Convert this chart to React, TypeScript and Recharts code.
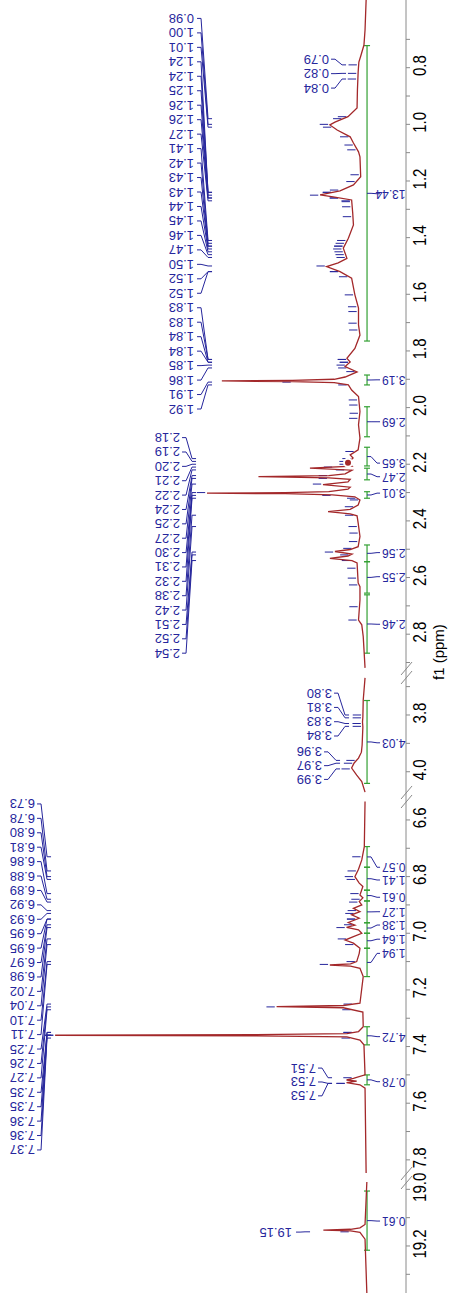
import { ComposedChart, Line, Scatter, XAxis, YAxis, ReferenceLine } from "recharts";

const FONT = '"Liberation Sans", Arial, sans-serif';
const RED = "#a3282a";
const BLUE = "#26269c";
const GREEN = "#33a033";
const AXIS = "#8a8a8a";
const PX_PER_PPM = 283.3;
const Y_DOMAIN: [number, number] = [-11.3, 100.7];

// spectrum pieces (ppm / intensity)
const ALKYL_PPM = [0.561, 0.667, 0.72, 0.755, 0.78, 0.815, 0.879, 0.942, 0.973, 0.992, 1.002, 1.02, 1.044, 1.066, 1.097, 1.115, 1.185, 1.214, 1.235, 1.249, 1.256, 1.267, 1.313, 1.355, 1.402, 1.437, 1.473, 1.489, 1.502, 1.52, 1.543, 1.602, 1.649, 1.708, 1.744, 1.791, 1.826, 1.839, 1.855, 1.874, 1.892, 1.9, 1.904, 1.906, 1.908, 1.912, 1.92, 1.938, 1.961, 2.014, 2.061, 2.108, 2.149, 2.167, 2.178, 2.195, 2.207, 2.214, 2.221, 2.234, 2.24, 2.244, 2.248, 2.253, 2.262, 2.272, 2.281, 2.288, 2.297, 2.3, 2.302, 2.304, 2.308, 2.315, 2.326, 2.344, 2.359, 2.367, 2.375, 2.382, 2.407, 2.455, 2.491, 2.501, 2.508, 2.517, 2.524, 2.532, 2.54, 2.548, 2.619, 2.632, 2.679, 2.75, 2.767, 2.808, 2.919];
const ALKYL_INT = [-0.3, 0, 0.3, 1.1, 1.7, 1.9, 2.1, 2.2, 4.7, 8.3, 9.7, 7.7, 4.1, 3.2, 1.8, 1.4, 1.2, 3.2, 6.9, 12.4, 8.8, 3.7, 3.4, 3.2, 4.6, 6.0, 5.0, 7.4, 10.6, 6.9, 3.7, 2.8, 1.8, 1.8, 1.4, 2.8, 5.0, 4.1, 5.5, 2.2, 5.5, 8.5, 20, 39.5, 20, 8.5, 4.6, 3.7, 1.8, 1.4, 1.8, 1.4, 1.9, 4.1, 3.3, 4.7, 3.6, 15.2, 3.6, 5.5, 10, 29.4, 10, 4.1, 4.7, 11.6, 4.1, 4.7, 10, 22, 43.6, 22, 9, 2.8, 1.4, 1.9, 4.1, 10.2, 4.1, 2.2, 1.9, 1.4, 1.9, 4.1, 8.3, 3.6, 4.7, 9.7, 3.6, 2.2, 1.9, 1.4, 1.4, 1.8, 0.9, 0.5, 0];

const MID_PPM = [3.669, 3.747, 3.807, 3.825, 3.842, 3.906, 3.931, 3.952, 3.969, 3.987, 4.012, 4.035, 4.072];
const MID_INT = [0, 0.5, 0.6, 0.7, 0.6, 0.8, 1.0, 1.8, 3.0, 3.7, 2.3, 0.9, 0];

const AROM_PPM = [6.535, 6.694, 6.741, 6.774, 6.8, 6.823, 6.835, 6.865, 6.875, 6.888, 6.9, 6.912, 6.924, 6.935, 6.947, 6.962, 6.971, 6.979, 6.988, 7.0, 7.012, 7.024, 7.035, 7.053, 7.071, 7.1, 7.108, 7.112, 7.116, 7.124, 7.153, 7.247, 7.255, 7.259, 7.263, 7.278, 7.33, 7.347, 7.354, 7.358, 7.36, 7.362, 7.366, 7.377, 7.394, 7.5, 7.512, 7.518, 7.522, 7.527, 7.535, 7.547, 7.846];
const AROM_INT = [0, 0.2, 0.9, 1.8, 2.8, 1.6, 0.6, 1.4, 0.6, 1.6, 0.9, 3.2, 1.4, 3.7, 1.6, 4.6, 2.8, 5.1, 1.8, 0.9, 3.2, 5.5, 3.2, 1.4, 1.6, 2.3, 4, 9.7, 4, 1.4, 0.5, 1.4, 6, 24.4, 6, 0.6, 0.5, 1.8, 5, 30, 85.5, 30, 5, 1.4, 0.3, 0, 3.2, 5.1, 2.3, 5.1, 1.4, 0, -0.3];

const ACID_PPM = [18.974, 19.124, 19.136, 19.141, 19.144, 19.147, 19.152, 19.176, 19.366];
const ACID_INT = [-0.5, 0, 1.4, 4, 11.5, 4, 1.4, 0, -0.5];

// peak labels
const LABELS_A = ["0.98", "1.00", "1.01", "1.24", "1.24", "1.25", "1.26", "1.26", "1.27", "1.41", "1.42", "1.43", "1.43", "1.44", "1.45", "1.46", "1.47", "1.50", "1.52", "1.52", "1.83", "1.83", "1.84", "1.84", "1.85", "1.86", "1.91", "1.92"];
const LABELS_B = ["2.18", "2.19", "2.20", "2.21", "2.22", "2.24", "2.25", "2.27", "2.30", "2.31", "2.32", "2.38", "2.42", "2.51", "2.52", "2.54"];
const LABELS_C = ["6.73", "6.78", "6.80", "6.81", "6.86", "6.88", "6.89", "6.92", "6.93", "6.95", "6.95", "6.97", "6.98", "7.02", "7.04", "7.10", "7.11", "7.25", "7.26", "7.27", "7.35", "7.35", "7.36", "7.36", "7.37"];
const LABELS_D1 = ["3.80", "3.81", "3.83", "3.84"];
const LABELS_D2 = ["3.96", "3.97", "3.99"];
const LABELS_E = ["0.79", "0.82", "0.84"];
const LABELS_F = ["7.51", "7.53", "7.53"];
const LABELS_G = ["19.15"];

// unlabelled picked peaks (marker dashes only)
const EXTRA_PICKS = [0.973, 1.044, 1.073, 1.09, 1.178, 1.202, 1.232, 1.273, 1.291, 1.326, 1.538, 1.602, 1.644, 1.661, 1.702, 1.726, 1.873, 1.973, 1.991, 2.02, 2.038, 2.155, 2.326, 2.35, 2.443, 2.473, 2.497, 2.567, 2.602, 2.626, 2.703, 2.75];

// integrals
const INT_TEXT = ["13.44", "3.19", "2.69", "3.65", "2.47", "3.01", "2.56", "2.55", "2.46", "4.03", "0.57", "1.41", "0.61", "1.27", "1.38", "1.64", "1.94", "4.72", "0.78", "0.61"];
const INT_FROM = [0.722, 1.885, 1.997, 2.14, 2.214, 2.297, 2.485, 2.544, 2.661, 3.749, 6.694, 6.767, 6.848, 6.886, 6.963, 7.0, 7.053, 7.33, 7.5, 19.006];
const INT_TO = [1.765, 1.92, 2.103, 2.206, 2.255, 2.32, 2.544, 2.655, 2.867, 4.041, 6.767, 6.848, 6.886, 6.963, 7.0, 7.053, 7.153, 7.394, 7.535, 19.215];
const INT_LABEL_AT = [1.245, 1.902, 2.05, 2.196, 2.244, 2.302, 2.512, 2.597, 2.765, 3.898, 6.767, 6.812, 6.873, 6.924, 6.971, 7.021, 7.071, 7.365, 7.524, 19.112];

// px from top of the (unrotated) plot -> intensity units, for annotation placement
const lv = (px: number) => (365 - px) / 3.625;

const GROUPS = [
  { labels: LABELS_A, first: 0.626, last: 2.005, text: 194, a: 197, b: 201, c: 208, d: 212 },
  { labels: LABELS_B, first: 2.106, last: 2.867, text: 180, a: 182, b: 186, c: 192, d: 196 },
  { labels: LABELS_C, first: 6.5435, last: 7.765, text: 35, a: 37, b: 41, c: 47, d: 51 },
  { labels: LABELS_D1, first: 3.723, last: 3.874, text: 332, a: 334, b: 338, c: 345, d: 349 },
  { labels: LABELS_D2, first: 3.93, last: 4.027, text: 322, a: 324, b: 328, c: 336, d: 340 },
  { labels: LABELS_E, first: 0.77, last: 0.872, text: 329, a: 331, b: 335, c: 342, d: 346 },
  { labels: LABELS_F, first: 7.476, last: 7.574, text: 316, a: 318, b: 322, c: 328, d: 332 },
  { labels: LABELS_G, first: 19.151, last: 19.151, text: 292, a: 296, b: 300, c: 305, d: 310 },
];

const tenths = (a: number, b: number) => {
  const out: number[] = [];
  for (let k = Math.round(a * 10); k <= Math.round(b * 10); k++) out.push(k / 10);
  return out;
};

const SEGMENTS = [
  { key: "acid", left: 0, width: 115, domain: [18.96, 19.366], ticks: tenths(19.0, 19.3), x: ACID_PPM, y: ACID_INT, brk: false },
  { key: "arom", left: 115, width: 381, domain: [6.519, 7.864], ticks: tenths(6.6, 7.8), x: AROM_PPM, y: AROM_INT, brk: true },
  { key: "mid", left: 496, width: 124, domain: [3.652, 4.089], ticks: tenths(3.7, 4.0), x: MID_PPM, y: MID_INT, brk: true },
  { key: "alkyl", left: 620, width: 673, domain: [0.561, 2.937], ticks: tenths(0.7, 2.9), x: ALKYL_PPM, y: ALKYL_INT, brk: true },
];

function heightAt(ppm: number, xs: number[], ys: number[]) {
  let best = -Infinity;
  for (let i = 0; i < xs.length; i++) if (Math.abs(xs[i] - ppm) <= 0.004) best = Math.max(best, ys[i]);
  for (let i = 0; i < xs.length - 1; i++) {
    if (ppm >= xs[i] && ppm <= xs[i + 1]) {
      const t = (ppm - xs[i]) / (xs[i + 1] - xs[i]);
      best = Math.max(best, ys[i] + t * (ys[i + 1] - ys[i]));
    }
  }
  return best === -Infinity ? 0 : best;
}

const RotText = (props: any) => {
  const { cx, cy, payload } = props;
  if (cx == null || cy == null) return null;
  return (
    <text
      x={cx}
      y={cy}
      transform={`rotate(-90 ${cx} ${cy})`}
      fill={BLUE}
      fontSize={payload.size}
      fontFamily={FONT}
      textAnchor="start"
      dominantBaseline="central"
    >
      {payload.text}
    </text>
  );
};

// tick labels are drawn a little taller than wide, like the original plot
const PpmTick = (props: any) => {
  const { x, y, payload } = props;
  const v = payload.value as number;
  if (Math.round(v * 10) % 2 !== 0) return null;
  return (
    <g transform={`translate(${x + 2},${y}) scale(1,1.25)`}>
      <text x={0} y={0} dy="0.71em" textAnchor="middle" fontSize={15} fontFamily={FONT} fill="#000">
        {v.toFixed(1)}
      </text>
    </g>
  );
};

function SegmentChart({ seg }: { seg: (typeof SEGMENTS)[number] }) {
  const [lo, hi] = seg.domain;
  const inside = (p: number) => p >= lo && p <= hi;
  const data = seg.x.map((x, i) => ({ x, y: seg.y[i] }));
  const lines: any[] = [];
  const texts: { x: number; y: number; text: string; size: number }[] = [];
  let n = 0;
  const addSeg = (x1: number, y1: number, x2: number, y2: number, color: string, w = 1, overflow = "discard") => {
    lines.push(
      <ReferenceLine
        key={`s${n++}`}
        segment={[{ x: x1, y: y1 }, { x: x2, y: y2 }]}
        stroke={color}
        strokeWidth={w}
        ifOverflow={overflow as any}
      />
    );
  };

  // integrals
  INT_TEXT.forEach((t, i) => {
    if (!inside(INT_FROM[i])) return;
    const a = INT_FROM[i];
    const b = INT_TO[i];
    addSeg(a, lv(367), b, lv(367), GREEN, 1.2);
    addSeg(a, lv(364), a, lv(370), GREEN, 1.2);
    addSeg(b, lv(364), b, lv(370), GREEN, 1.2);
    const mid = (a + b) / 2;
    addSeg(mid, lv(367), mid, lv(371), BLUE);
    addSeg(mid, lv(371), INT_LABEL_AT[i], lv(377), BLUE);
    addSeg(INT_LABEL_AT[i], lv(377), INT_LABEL_AT[i], lv(380), BLUE);
    texts.push({ x: INT_LABEL_AT[i], y: lv(405.5), text: t, size: 12 });
  });

  // peak labels with fan connectors and pick markers
  GROUPS.forEach((g) => {
    if (!inside(g.first)) return;
    const cnt = g.labels.length;
    g.labels.forEach((t, i) => {
      const slot = cnt === 1 ? g.first : g.first + (i * (g.last - g.first)) / (cnt - 1);
      const pk = parseFloat(t);
      texts.push({ x: slot, y: lv(g.text), text: t, size: 13 });
      addSeg(slot, lv(g.a), slot, lv(g.b), BLUE);
      addSeg(slot, lv(g.b), pk, lv(g.c), BLUE);
      addSeg(pk, lv(g.c), pk, lv(g.d), BLUE);
      const h = heightAt(pk, seg.x, seg.y);
      addSeg(pk, h + 0.5, pk, h + 2.8, BLUE, 1);
    });
  });
  EXTRA_PICKS.forEach((p) => {
    if (!inside(p)) return;
    const h = heightAt(p, seg.x, seg.y);
    addSeg(p, h + 0.5, p, h + 2.8, BLUE, 1);
  });

  // axis break marks at the left edge of this piece
  if (seg.brk) {
    [-4.5, 4.5].forEach((off) => {
      const c = hi - off / PX_PER_PPM;
      addSeg(c + 6.5 / PX_PER_PPM, lv(401), c - 6.5 / PX_PER_PPM, lv(412), AXIS, 1, "visible");
    });
  }

  return (
    <div style={{ position: "absolute", left: seg.left, top: 0 }}>
      <ComposedChart width={seg.width} height={451} data={data} margin={{ top: 0, right: 0, bottom: 0, left: 0 }}>
        <XAxis
          type="number"
          dataKey="x"
          domain={seg.domain}
          reversed
          allowDataOverflow
          ticks={seg.ticks}
          interval={0}
          height={45}
          tickSize={4}
          tickMargin={3}
          stroke={AXIS}
          tick={PpmTick}
          label={
            seg.key === "alkyl"
              ? {
                  content: (p: any) => (
                    <text x={p.viewBox.x - 7} y={p.viewBox.y + p.viewBox.height - 7} fontSize={15} fontFamily={FONT} fill="#000">
                      f1 (ppm)
                    </text>
                  ),
                }
              : undefined
          }
        />
        <YAxis type="number" dataKey="y" domain={Y_DOMAIN} allowDataOverflow hide />
        {lines}
        <Line type="linear" dataKey="y" stroke={RED} strokeWidth={1.3} dot={false} isAnimationActive={false} />
        <Scatter data={texts} dataKey="y" shape={RotText} isAnimationActive={false} />
      </ComposedChart>
    </div>
  );
}

export default function App() {
  return (
    <div style={{ position: "absolute", left: 0, top: 0, width: 451, height: 1293, overflow: "hidden", background: "#fff" }}>
      <style>{`.recharts-surface{overflow:visible}`}</style>
      <div
        style={{
          position: "absolute",
          left: 0,
          top: 0,
          width: 1293,
          height: 451,
          transformOrigin: "0 0",
          transform: "translateY(1293px) rotate(-90deg)",
        }}
      >
        {SEGMENTS.map((s) => (
          <SegmentChart key={s.key} seg={s} />
        ))}
      </div>
    </div>
  );
}
